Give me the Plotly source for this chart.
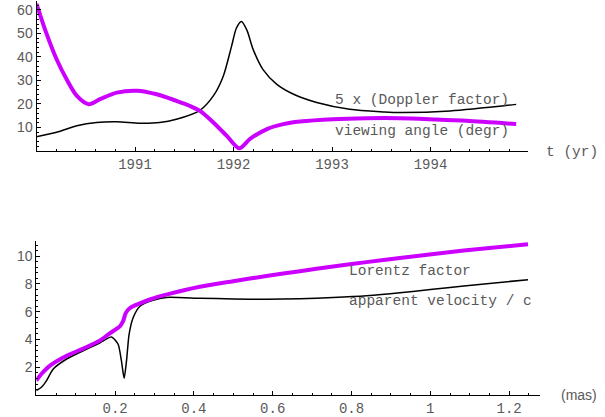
import plotly.graph_objects as go

W, H = 605, 417

# ---- top panel data (t in years) ----
angle_t = [1990.00, 1990.10, 1990.205, 1990.307, 1990.41, 1990.53, 1990.645, 1990.815,
           1991.02, 1991.22, 1991.42, 1991.56, 1991.66, 1991.795, 1991.93, 1992.058, 1992.168,
           1992.34, 1992.505, 1992.675, 1993.01, 1993.35, 1993.69, 1994.03, 1994.365, 1994.87]
angle_v = [62.6, 50.1, 38.9, 30.4, 23.4, 19.9, 22.0, 24.8,
           25.6, 24.1, 21.3, 19.1, 17.0, 12.1, 6.5, 1.1, 5.1,
           9.3, 11.4, 12.5, 13.5, 13.9, 13.9, 13.4, 12.8, 11.4]

dopp_t = [1990.00, 1990.205, 1990.41, 1990.61, 1990.815, 1991.05, 1991.25, 1991.42,
          1991.66, 1991.795, 1991.896, 1991.98, 1992.03, 1992.08, 1992.135, 1992.2,
          1992.3, 1992.44, 1992.61, 1992.845, 1993.18, 1993.52, 1993.69, 1994.2, 1994.87]
dopp_v = [6.0, 7.9, 10.7, 12.1, 12.4, 11.8, 12.1, 13.5,
          17.3, 23.4, 31.8, 44.5, 52.3, 55.1, 51.5, 43.1,
          34.6, 28.3, 24.1, 20.6, 17.7, 16.6, 16.3, 17.0, 19.8]

top_xticks = [1991, 1992, 1993, 1994]
top_yticks = [10, 20, 30, 40, 50, 60]

# ---- bottom panel data (distance in mas) ----
lor_x = [0.0, 0.013, 0.034, 0.077, 0.119, 0.161, 0.1865, 0.212, 0.22, 0.227, 0.237,
         0.263, 0.288, 0.33, 0.415, 0.5, 0.584, 0.669, 0.753, 0.838, 0.923, 1.085, 1.248]
lor_v = [1.05, 1.52, 2.1, 2.83, 3.35, 3.92, 4.45, 4.95, 5.3, 5.9, 6.25,
         6.6, 6.88, 7.23, 7.8, 8.2, 8.57, 8.92, 9.25, 9.57, 9.87, 10.4, 10.86]

vel_x = [0.0, 0.013, 0.026, 0.043, 0.077, 0.119, 0.161, 0.191, 0.2077, 0.216,
         0.223, 0.229, 0.2355, 0.2457, 0.263, 0.296, 0.33, 0.415, 0.5, 0.584, 0.669,
         0.753, 0.838, 0.923, 1.0, 1.085, 1.248]
vel_v = [0.33, 0.57, 1.05, 1.88, 2.6, 3.19, 3.75, 4.19, 3.66, 2.48,
         1.21, 2.48, 4.38, 5.57, 6.4, 6.82, 7.03, 6.97, 6.92, 6.9, 6.93,
         7.02, 7.15, 7.36, 7.6, 7.85, 8.31]

bot_xticks = [0.2, 0.4, 0.6, 0.8, 1.0, 1.2]
bot_xtext = ["0.2", "0.4", "0.6", "0.8", "1", "1.2"]
bot_yticks = [2, 4, 6, 8, 10]

MAG = "rgb(204,0,255)"
GRAY = "#5a5a5a"
MONO = "Liberation Mono, Courier New, monospace"
SANS = "Liberation Sans, Arial, sans-serif"

fig = go.Figure()
fig.add_trace(go.Scatter(x=dopp_t, y=dopp_v, mode="lines", line=dict(color="black", width=1.5, shape="spline", smoothing=0.8),
                         xaxis="x", yaxis="y", hoverinfo="skip"))
fig.add_trace(go.Scatter(x=angle_t, y=angle_v, mode="lines", line=dict(color=MAG, width=4, shape="spline", smoothing=0.8),
                         xaxis="x", yaxis="y", hoverinfo="skip"))
fig.add_trace(go.Scatter(x=vel_x, y=vel_v, mode="lines", line=dict(color="black", width=1.5, shape="spline", smoothing=0.6),
                         xaxis="x2", yaxis="y2", hoverinfo="skip"))
fig.add_trace(go.Scatter(x=lor_x, y=lor_v, mode="lines", line=dict(color=MAG, width=4, shape="spline", smoothing=0.8),
                         xaxis="x2", yaxis="y2", hoverinfo="skip"))

def px_x(p):
    return p / W

def px_y(p):
    return 1 - p / H

common = dict(showline=True, linecolor="black", linewidth=1, ticks="inside", tickcolor="black",
              ticklen=4, tickwidth=1, showgrid=False, zeroline=False)

fig.update_layout(
    width=W, height=H, margin=dict(l=0, r=0, t=0, b=0),
    paper_bgcolor="white", plot_bgcolor="white", showlegend=False,
    xaxis=dict(domain=[px_x(36.5), px_x(528)], range=[1990, 1990 + (528 - 36.5) / 98.5],
               anchor="y", tickmode="array", tickvals=top_xticks, ticktext=[str(v) for v in top_xticks],
               tickfont=dict(family=MONO, size=14, color=GRAY),
               minor=dict(tick0=1990, dtick=0.2, ticks="inside", ticklen=2, tickcolor="black"), **common),
    yaxis=dict(domain=[px_y(152), px_y(1)], range=[0, (152 - 1) / 2.367],
               anchor="x", tickmode="array", tickvals=top_yticks,
               tickfont=dict(family=SANS, size=14, color=GRAY),
               minor=dict(tick0=0, dtick=2, ticks="inside", ticklen=2, tickcolor="black"), **common),
    xaxis2=dict(domain=[px_x(36.3), px_x(540)], range=[0, (540 - 36.3) / 394],
                anchor="y2", tickmode="array", tickvals=bot_xticks, ticktext=bot_xtext,
                tickfont=dict(family=MONO, size=14, color=GRAY),
                minor=dict(tick0=0, dtick=0.05, ticks="inside", ticklen=2, tickcolor="black"), **common),
    yaxis2=dict(domain=[px_y(398), px_y(242.7)], range=[0, (398 - 242.7) / 14],
                anchor="x2", tickmode="array", tickvals=bot_yticks,
                tickfont=dict(family=SANS, size=14, color=GRAY),
                minor=dict(tick0=0, dtick=0.4, ticks="inside", ticklen=2, tickcolor="black"), **common),
)

labels = [
    ("5 x (Doppler factor)", 333, 100.5, MONO),
    ("viewing angle (degr)", 333, 131.5, MONO),
    ("t (yr)", 544, 153, MONO),
    ("Lorentz factor", 347, 273, MONO),
    ("apparent velocity / c", 347, 303, MONO),
    ("(mas)", 559, 397.5, SANS),
]
for txt, x, y, fam in labels:
    fig.add_annotation(text=txt, x=px_x(x), y=px_y(y), xref="paper", yref="paper",
                       xanchor="left", yanchor="middle", showarrow=False,
                       font=dict(family=fam, size=14.5 if fam == MONO else 14, color=GRAY))

fig.write_html("out.html")
